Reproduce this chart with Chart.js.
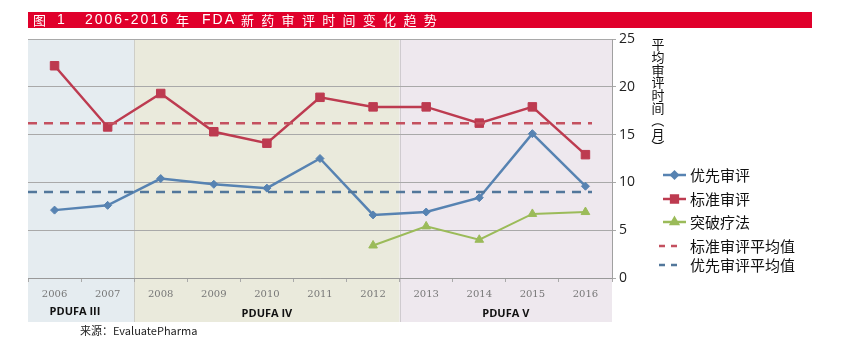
<!DOCTYPE html>
<html>
<head>
<meta charset="utf-8">
<script src="https://cdn.jsdelivr.net/npm/chart.js@4.4.1/dist/chart.umd.min.js"></script>
<style>
  html, body { margin: 0; padding: 0; background: #fff; }
  #wrap { width: 844px; height: 344px; position: relative; }
</style>
</head>
<body>
<div id="wrap"><canvas id="chart" width="844" height="344"></canvas></div>
<script>
// data
const years = ['2006', '2007', '2008', '2009', '2010', '2011', '2012', '2013', '2014', '2015', '2016'];
const priorityReview = [7.1, 7.6, 10.4, 9.8, 9.4, 12.5, 6.6, 6.9, 8.4, 15.1, 9.6];
const standardReview = [22.2, 15.8, 19.3, 15.3, 14.1, 18.9, 17.9, 17.9, 16.2, 17.9, 12.9];
const breakthrough = [null, null, null, null, null, null, 3.4, 5.4, 4.0, 6.7, 6.9];
const standardMean = 16.2;
const priorityMean = 9.0;
const yTicks = [0, 5, 10, 15, 20, 25];

// PDUFA periods: label, first year index, last year index
const periodNames = ['PDUFA III', 'PDUFA IV', 'PDUFA V'];
const periodStart = [0, 2, 7];
const periodEnd = [1, 6, 10];
const periodColors = ['#e5ecf0', '#eaeadc', '#eee8ee'];

// title pieces and where they start
const titlePieces = ['图', '1', '2006-2016', '年', 'FDA', '新药审评时间变化趋势'];
const titleX = [33, 57, 85, 176, 202, 241];
const yTitle = ['平', '均', '审', '评', '时', '间', '（', '月', '）'];
const sourceText = '来源：EvaluatePharma';

const cjk = '"Noto Sans CJK SC", "Noto Sans", sans-serif';
const latin = '"Liberation Sans", "Open Sans", sans-serif';

function drawTitle(ctx) {
  ctx.fillStyle = '#e0002b';
  ctx.fillRect(28, 12, 784, 16);
  ctx.fillStyle = '#ffffff';
  ctx.textBaseline = 'middle';
  ctx.textAlign = 'left';
  titlePieces.forEach((p, i) => {
    if (/^[0-9A-Za-z-]+$/.test(p)) {
      ctx.font = '14px ' + latin;
      ctx.letterSpacing = '2px';
      ctx.fillText(p, titleX[i], 20.5);
    } else {
      ctx.font = '13px ' + cjk;
      ctx.letterSpacing = '0px';
      Array.from(p).forEach((ch, j) => ctx.fillText(ch, titleX[i] + j * 20.3, 20.5));
    }
  });
  ctx.letterSpacing = '0px';
}

// backgrounds, title, period labels
const backdrop = {
  id: 'backdrop',
  beforeDraw(chart) {
    const ctx = chart.ctx;
    const x = chart.scales.x;
    const area = chart.chartArea;
    const half = (x.getPixelForValue(1) - x.getPixelForValue(0)) / 2;
    ctx.save();
    periodNames.forEach((name, i) => {
      const x0 = x.getPixelForValue(periodStart[i]) - half;
      const x1 = x.getPixelForValue(periodEnd[i]) + half;
      ctx.fillStyle = periodColors[i];
      ctx.fillRect(x0, area.top, x1 - x0, 322 - area.top);
    });
    // faint border between periods
    ctx.strokeStyle = 'rgba(150,150,150,0.35)';
    ctx.lineWidth = 1;
    [periodStart[1], periodStart[2]].forEach(s => {
      const px = Math.round(x.getPixelForValue(s) - half) + 0.5;
      ctx.beginPath(); ctx.moveTo(px, area.top); ctx.lineTo(px, 322); ctx.stroke();
    });
    drawTitle(ctx);
    ctx.restore();
  },
  afterDraw(chart) {
    const ctx = chart.ctx;
    const x = chart.scales.x;
    const y = chart.scales.y;
    const area = chart.chartArea;
    ctx.save();
    // mean lines
    ctx.lineWidth = 2.5;
    ctx.setLineDash([9, 7]);
    [[standardMean, '#c4505f'], [priorityMean, '#52779b']].forEach(([v, c]) => {
      const py = y.getPixelForValue(v);
      ctx.strokeStyle = c;
      ctx.beginPath(); ctx.moveTo(area.left, py); ctx.lineTo(area.right - 20, py); ctx.stroke();
    });
    ctx.setLineDash([]);
    // period labels
    ctx.fillStyle = '#111';
    ctx.font = 'bold 11px "Open Sans", "Liberation Sans", sans-serif';
    ctx.textAlign = 'center';
    ctx.textBaseline = 'middle';
    ctx.fillText(periodNames[0], 75, 312);
    ctx.fillText(periodNames[1], (x.getPixelForValue(periodStart[1]) + x.getPixelForValue(periodEnd[1])) / 2, 314);
    ctx.fillText(periodNames[2], (x.getPixelForValue(periodStart[2]) + x.getPixelForValue(periodEnd[2])) / 2, 314);
    // source
    ctx.textAlign = 'left';
    ctx.font = '11px ' + cjk;
    ctx.fillStyle = '#222';
    ctx.fillText(sourceText, 80, 331);
    // vertical y-axis title, brackets turned upright
    ctx.font = '13px ' + cjk;
    ctx.textAlign = 'center';
    ctx.fillStyle = '#111';
    yTitle.forEach((ch, i) => {
      const cy = 44 + i * 12.8;
      if (ch === '（' || ch === '）') {
        ctx.save();
        ctx.translate(658, cy);
        ctx.rotate(Math.PI / 2);
        ctx.fillText(ch, 0, 0);
        ctx.restore();
      } else {
        ctx.fillText(ch, 658, cy);
      }
    });
    // legend
    const ds = chart.data.datasets;
    const rows = [175, 199, 222];
    ds.forEach((d, i) => {
      const ry = rows[i];
      ctx.strokeStyle = d.borderColor;
      ctx.lineWidth = 2.5;
      ctx.beginPath(); ctx.moveTo(663, ry); ctx.lineTo(686, ry); ctx.stroke();
      Chart.helpers.drawPoint(ctx, {
        pointStyle: d.pointStyle, radius: d.pointRadius * 0.8, rotation: 0, borderWidth: 1
      }, 674.5, ry);
      ctx.fillStyle = d.backgroundColor;
      ctx.fill();
      ctx.fillStyle = '#111';
      ctx.textAlign = 'left';
      ctx.font = '15px ' + cjk;
      ctx.fillText(d.label, 690, ry);
    });
    [['标准审评平均值', '#c4505f', 246], ['优先审评平均值', '#52779b', 265]].forEach(([t, c, ry]) => {
      ctx.strokeStyle = c;
      ctx.lineWidth = 2.5;
      ctx.setLineDash([6, 6]);
      ctx.beginPath(); ctx.moveTo(659, ry); ctx.lineTo(683, ry); ctx.stroke();
      ctx.setLineDash([]);
      ctx.fillStyle = '#111';
      ctx.fillText(t, 690, ry);
    });
    ctx.restore();
  }
};

const chart = new Chart(document.getElementById('chart'), {
  type: 'line',
  data: {
    labels: years,
    datasets: [
      {
        label: '优先审评',
        data: priorityReview,
        borderColor: '#5783b2',
        backgroundColor: '#5783b2',
        borderWidth: 2.5,
        pointStyle: 'rectRot',
        pointRadius: 4,
        pointBorderWidth: 1,
        tension: 0
      },
      {
        label: '标准审评',
        data: standardReview,
        borderColor: '#bd3b50',
        backgroundColor: '#bd3b50',
        borderWidth: 2.5,
        pointStyle: 'rect',
        pointRadius: 6,
        pointBorderWidth: 1,
        tension: 0
      },
      {
        label: '突破疗法',
        data: breakthrough,
        borderColor: '#9bbb59',
        backgroundColor: '#9bbb59',
        borderWidth: 2,
        pointStyle: 'triangle',
        pointRadius: 5,
        pointBorderWidth: 1,
        tension: 0
      }
    ]
  },
  options: {
    responsive: false,
    animation: false,
    devicePixelRatio: 1,
    layout: { padding: { left: 28, top: 39, right: 192, bottom: 36 } },
    plugins: { legend: { display: false }, tooltip: { enabled: false } },
    scales: {
      x: {
        offset: true,
        afterFit: s => { s.height = 30; },
        grid: { drawOnChartArea: false, drawTicks: true, tickLength: 4, color: '#aaa', offset: true },
        border: { display: true, color: '#999' },
        ticks: {
          color: '#777',
          padding: 6,
          font: { family: '"DejaVu Serif", "Liberation Serif", serif', size: 10 },
          maxRotation: 0
        }
      },
      y: {
        position: 'right',
        min: 0,
        max: 25,
        afterFit: s => { s.width = 40; },
        afterBuildTicks: s => { s.ticks = yTicks.map(v => ({ value: v })); },
        grid: { color: '#a9a9a9', lineWidth: 1, drawTicks: true, tickLength: 4 },
        border: { display: true, color: '#a0a0a0' },
        ticks: {
          color: '#222',
          padding: 3,
          font: { family: '"Open Sans", "Liberation Sans", sans-serif', size: 14 }
        }
      }
    }
  },
  plugins: [backdrop]
});
</script>
</body>
</html>
